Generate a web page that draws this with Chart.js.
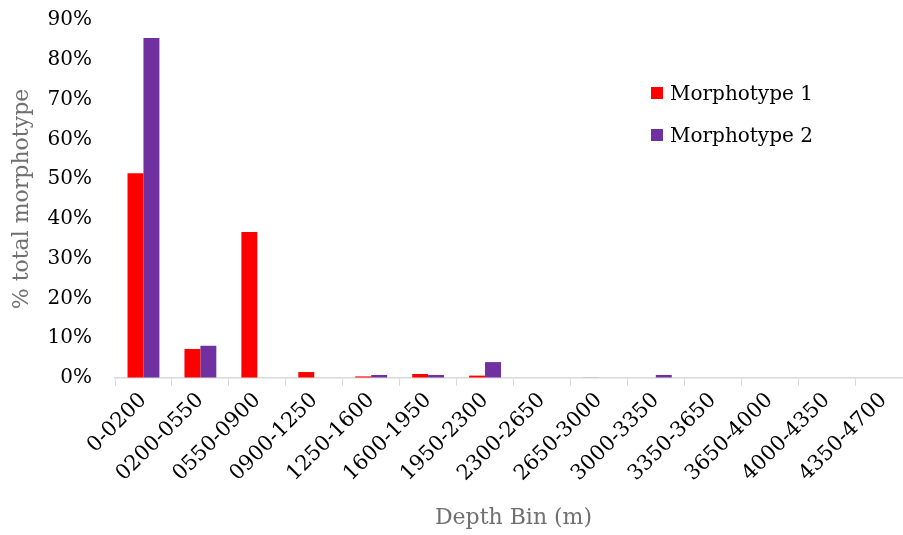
<!DOCTYPE html>
<html>
<head>
<meta charset="utf-8">
<script src="https://cdn.jsdelivr.net/npm/chart.js@4"></script>
<style>
  html, body { margin: 0; padding: 0; background: #fff; overflow: hidden; width: 903px; height: 535px; }
  #wrap { position: relative; width: 912px; height: 535px; }
  .leg { position: absolute; left: 651px; font-family: "DejaVu Serif", serif; font-size: 20px; color: #000; display: flex; align-items: center; white-space: nowrap; }
  .leg span.sw { display: inline-block; width: 12px; height: 12px; margin-right: 7px; }
</style>
</head>
<body>
<div id="wrap">
  <canvas id="c" width="912" height="535"></canvas>
  <div class="leg" style="top:81px;"><span class="sw" style="background:#FF0000"></span>Morphotype 1</div>
  <div class="leg" style="top:123px;"><span class="sw" style="background:#7030A0"></span>Morphotype 2</div>
</div>
<script>
const categories = ["0-0200","0200-0550","0550-0900","0900-1250","1250-1600","1600-1950","1950-2300","2300-2650","2650-3000","3000-3350","3350-3650","3650-4000","4000-4350","4350-4700"];
const morphotype1 = [51.5, 7.3, 36.7, 1.5, 0.4, 1.0, 0.6, 0, 0.1, 0, 0, 0, 0, 0];
const morphotype2 = [85.5, 8.1, 0, 0, 0.75, 0.75, 4.0, 0, 0, 0.75, 0, 0, 0, 0];
const yTicks = [0, 10, 20, 30, 40, 50, 60, 70, 80, 90];

const serif = "DejaVu Serif";
new Chart(document.getElementById('c'), {
  type: 'bar',
  data: {
    labels: categories,
    datasets: [
      { label: 'Morphotype 1', data: morphotype1, backgroundColor: '#FF0000', borderWidth: 0 },
      { label: 'Morphotype 2', data: morphotype2, backgroundColor: '#7030A0', borderWidth: 0 }
    ]
  },
  options: {
    responsive: false,
    animation: false,
    devicePixelRatio: 1,
    layout: { padding: { top: 20, left: 0, right: 0, bottom: 0 } },
    datasets: { bar: { categoryPercentage: 0.56, barPercentage: 1.0 } },
    plugins: { legend: { display: false }, tooltip: { enabled: false } },
    scales: {
      x: {
        offset: true,
        afterFit: s => { s.height = 157; },
        grid: { display: true, drawOnChartArea: false, drawTicks: true, tickLength: 8, color: '#d9d9d9', lineWidth: 1, offset: true },
        border: { display: true, color: '#d9d9d9', width: 1.5 },
        ticks: { minRotation: 45, maxRotation: 45, autoSkip: false, color: '#000', padding: 2, font: { family: serif, size: 21 } },
        title: { display: true, text: 'Depth Bin (m)', color: '#707070', font: { family: serif, size: 22 }, padding: { top: 0, bottom: 4 } }
      },
      y: {
        min: 0, max: 90,
        afterFit: s => { s.width = 115; },
        afterBuildTicks: s => { s.ticks = yTicks.map(v => ({ value: v })); },
        grid: { display: true, drawOnChartArea: false, drawTicks: true, tickLength: 22, color: 'rgba(0,0,0,0)' },
        border: { display: false },
        ticks: { color: '#000', padding: 1, font: { family: serif, size: 20 }, callback: v => v + '%' },
        title: { display: true, text: '% total morphotype', color: '#707070', font: { family: serif, size: 22 }, padding: { top: 9, bottom: 0 } }
      }
    }
  }
});
</script>
</body>
</html>
